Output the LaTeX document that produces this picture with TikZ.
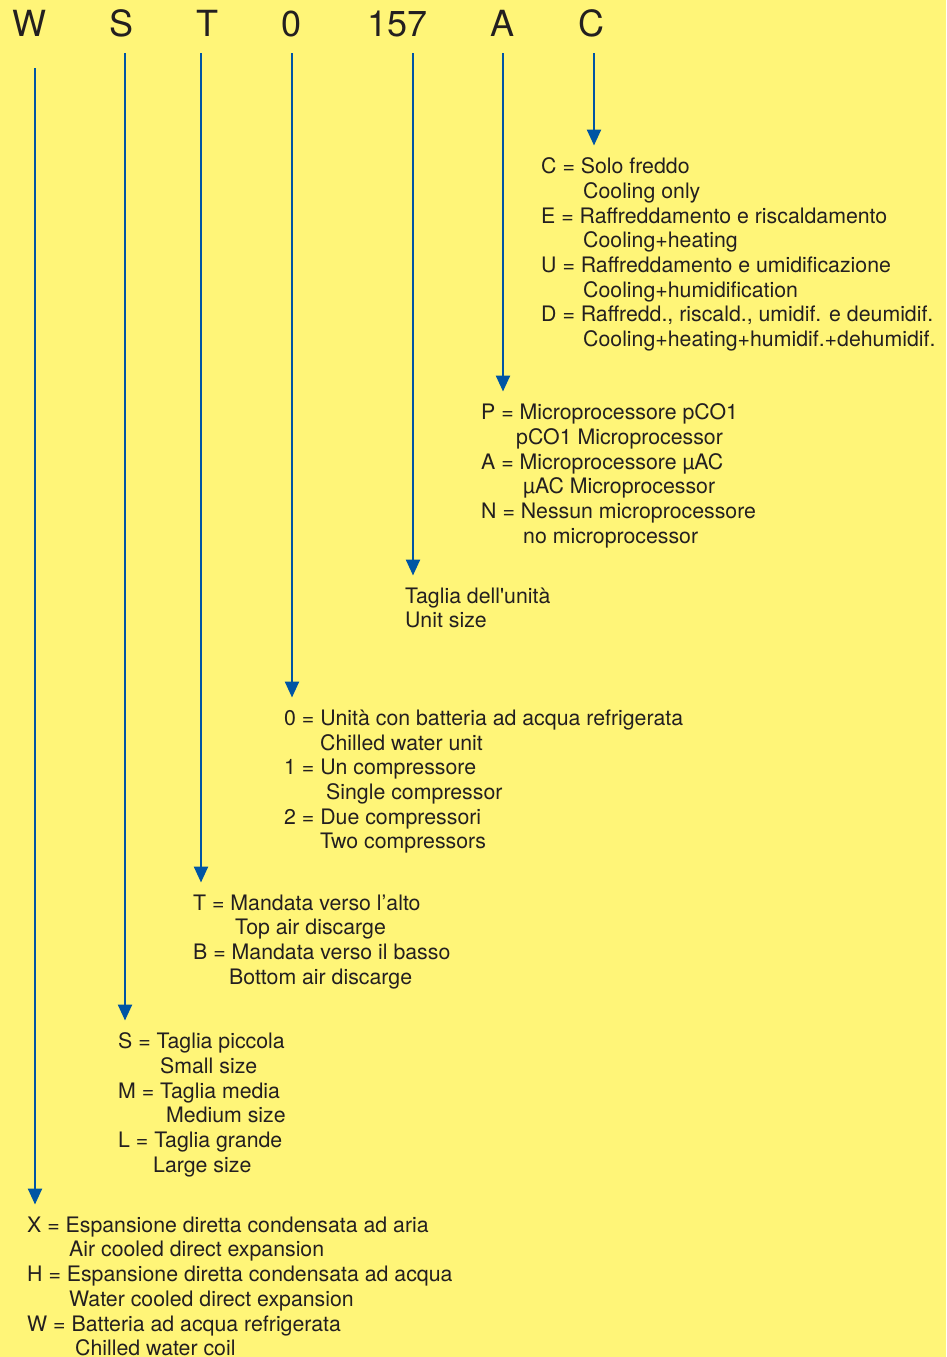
\documentclass[tikz,border=0pt]{standalone}
\usepackage{fontspec}
\setmainfont{TeX Gyre Heros}
\usetikzlibrary{arrows.meta}
\definecolor{codebg}{HTML}{FFF578}
\definecolor{codeblue}{HTML}{0055A4}
\definecolor{codetext}{HTML}{231F20}

\begin{document}
\begin{tikzpicture}[x=1pt,y=-1pt,
    letter/.style={anchor=base,inner sep=0pt,text=codetext,
        font=\fontsize{36}{40}\selectfont},
    legend/.style={anchor=north west,inner sep=0pt,align=left,text=codetext,
        font=\fontsize{21.3}{24.7}\selectfont},
    code arrow/.style={draw=codeblue,line width=2.4pt,
        -{Triangle[width=14pt,length=16pt]},shorten >=12pt}
]

% Background
\useasboundingbox (0,0) rectangle (946,1357);
\fill[codebg] (0,0) rectangle (946,1357);

% Letters of the code
\node[letter] (l-W) at (29.5,36) {W};
\node[letter] (l-S) at (122,36) {S};
\node[letter] (l-T) at (207,36) {T};
\node[letter] (l-0) at (292,36) {0};
\node[letter] (l-157) at (397.5,36) {157};
\node[letter] (l-A) at (502,36) {A};
\node[letter] (l-C) at (591,36) {C};

% Start of the arrows
\coordinate (s-W) at (35,68);
\coordinate (s-S) at (125,53);
\coordinate (s-T) at (201,53);
\coordinate (s-0) at (292,53);
\coordinate (s-157) at (413,53);
\coordinate (s-A) at (503,53);
\coordinate (s-C) at (594,53);

% Legends
\node[legend] (b-C) at (541,157.5) {C = Solo freddo\\
    \hspace*{42pt}Cooling only\\
    E = Raffreddamento e riscaldamento\\
    \hspace*{42pt}Cooling+heating\\
    U = Raffreddamento e umidificazione\\
    \hspace*{42pt}Cooling+humidification\\
    D = Raffredd., riscald., umidif. e deumidif.\\
    \hspace*{42pt}Cooling+heating+humidif.+dehumidif.};

\node[legend] (b-A) at (481,403.5) {P = Microprocessore pCO1\\
    \hspace*{35pt}pCO1 Microprocessor\\
    A = Microprocessore µAC\\
    \hspace*{42pt}µAC Microprocessor\\
    N = Nessun microprocessore\\
    \hspace*{42pt}no microprocessor};

\node[legend] (b-157) at (405,587.5) {Taglia dell\textquotesingle unità\\
    Unit size};

\node[legend] (b-0) at (284,709.5) {0 = Unità con batteria ad acqua refrigerata\\
    \hspace*{36pt}Chilled water unit\\
    1 = Un compressore\\
    \hspace*{42pt}Single compressor\\
    2 = Due compressori\\
    \hspace*{36pt}Two compressors};

\node[legend] (b-T) at (193,894.5) {T = Mandata verso l’alto\\
    \hspace*{42pt}Top air discarge\\
    B = Mandata verso il basso\\
    \hspace*{36pt}Bottom air discarge};

\node[legend] (b-S) at (118,1032.5) {S = Taglia piccola\\
    \hspace*{42pt}Small size\\
    M = Taglia media\\
    \hspace*{48pt}Medium size\\
    L = Taglia grande\\
    \hspace*{35pt}Large size};

\node[legend] (b-W) at (27,1216.5) {X = Espansione diretta condensata ad aria\\
    \hspace*{42pt}Air cooled direct expansion\\
    H = Espansione diretta condensata ad acqua\\
    \hspace*{42pt}Water cooled direct expansion\\
    W = Batteria ad acqua refrigerata\\
    \hspace*{48pt}Chilled water coil};

% Arrows
\foreach \k in {W,S,T,0,157,A,C}
    \draw[code arrow] (s-\k) -- (s-\k |- b-\k.north);

\end{tikzpicture}
\end{document}
